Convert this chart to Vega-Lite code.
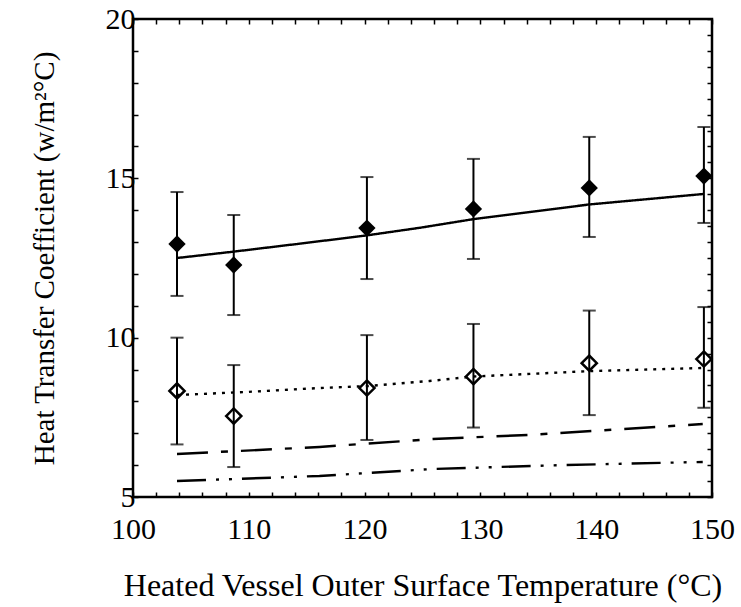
{
  "$schema": "https://vega.github.io/schema/vega-lite/v6.json",
  "width": 579,
  "height": 478,
  "autosize": {"type": "none"},
  "padding": {"left": 133, "top": 19, "right": 29, "bottom": 110},
  "background": "white",
  "config": {
    "view": {"stroke": "black", "strokeWidth": 2.5},
    "font": "Liberation Serif"
  },
  "datasets": {
    "points": [
      {"T": 103.8, "h": 12.94, "lo": 11.31, "hi": 14.57, "s": "filled"},
      {"T": 108.7, "h": 12.28, "lo": 10.71, "hi": 13.85, "s": "filled"},
      {"T": 120.2, "h": 13.44, "lo": 11.84, "hi": 15.04, "s": "filled"},
      {"T": 129.4, "h": 14.04, "lo": 12.47, "hi": 15.61, "s": "filled"},
      {"T": 139.4, "h": 14.70, "lo": 13.16, "hi": 16.30, "s": "filled"},
      {"T": 149.3, "h": 15.07, "lo": 13.60, "hi": 16.61, "s": "filled"},
      {"T": 103.8, "h": 8.33, "lo": 6.65, "hi": 10.0, "s": "open"},
      {"T": 108.7, "h": 7.54, "lo": 5.94, "hi": 9.14, "s": "open"},
      {"T": 120.2, "h": 8.42, "lo": 6.79, "hi": 10.08, "s": "open"},
      {"T": 129.4, "h": 8.78, "lo": 7.18, "hi": 10.43, "s": "open"},
      {"T": 139.4, "h": 9.2, "lo": 7.57, "hi": 10.85, "s": "open"},
      {"T": 149.3, "h": 9.33, "lo": 7.8, "hi": 10.96, "s": "open"}
    ],
    "curves": [
      {"T": 103.8, "h": 12.5, "c": "solid"},
      {"T": 108.7, "h": 12.7, "c": "solid"},
      {"T": 114.4, "h": 12.95, "c": "solid"},
      {"T": 120.0, "h": 13.2, "c": "solid"},
      {"T": 124.8, "h": 13.45, "c": "solid"},
      {"T": 129.4, "h": 13.72, "c": "solid"},
      {"T": 139.4, "h": 14.18, "c": "solid"},
      {"T": 149.3, "h": 14.51, "c": "solid"},
      {"T": 103.8, "h": 8.2, "c": "dotted"},
      {"T": 110.0, "h": 8.3, "c": "dotted"},
      {"T": 116.1, "h": 8.42, "c": "dotted"},
      {"T": 120.2, "h": 8.48, "c": "dotted"},
      {"T": 125.6, "h": 8.64, "c": "dotted"},
      {"T": 129.4, "h": 8.78, "c": "dotted"},
      {"T": 139.4, "h": 8.95, "c": "dotted"},
      {"T": 149.3, "h": 9.05, "c": "dotted"},
      {"T": 103.8, "h": 6.35, "c": "dashed"},
      {"T": 116.1, "h": 6.57, "c": "dashed"},
      {"T": 125.9, "h": 6.82, "c": "dashed"},
      {"T": 134.3, "h": 6.95, "c": "dashed"},
      {"T": 149.2, "h": 7.29, "c": "dashed"},
      {"T": 103.8, "h": 5.5, "c": "dashdot"},
      {"T": 116.1, "h": 5.66, "c": "dashdot"},
      {"T": 125.9, "h": 5.88, "c": "dashdot"},
      {"T": 137.0, "h": 6.0, "c": "dashdot"},
      {"T": 149.2, "h": 6.1, "c": "dashdot"}
    ]
  },
  "resolve": {"axis": {"x": "independent", "y": "independent"}},
  "layer": [
    {
      "data": {"name": "curves"},
      "mark": {"type": "line", "color": "black", "strokeWidth": 2.4, "strokeCap": "butt"},
      "encoding": {
        "x": {
          "field": "T", "type": "quantitative",
          "scale": {"domain": [100, 150], "nice": false, "zero": false},
          "axis": {
            "orient": "bottom",
            "values": [100,102,104,106,108,110,112,114,116,118,120,122,124,126,128,130,132,134,136,138,140,142,144,146,148,150],
            "format": "d",
            "labelExpr": "datum.value % 10 === 0 ? datum.label : ''",
            "title": "Heated Vessel Outer Surface Temperature (°C)",
            "titleFont": "Liberation Serif", "titleFontSize": 32, "titleFontWeight": "normal", "titleColor": "black", "titlePadding": 26,
            "labelFont": "Liberation Serif", "labelFontSize": 30, "labelColor": "black", "labelPadding": 22,
            "tickSize": -5, "tickWidth": 1.5, "tickColor": "black",
            "domain": false, "grid": false, "labelFlush": false, "labelOverlap": false
          }
        },
        "y": {
          "field": "h", "type": "quantitative",
          "scale": {"domain": [5, 20], "nice": false, "zero": false},
          "axis": {
            "orient": "left",
            "values": [5,5.5,6,6.5,7,7.5,8,8.5,9,9.5,10,10.5,11,11.5,12,12.5,13,13.5,14,14.5,15,15.5,16,16.5,17,17.5,18,18.5,19,19.5,20],
            "format": "d",
            "labelExpr": "datum.value % 5 === 0 ? datum.label : ''",
            "title": "Heat Transfer Coefficient (w/m²°C)",
            "titleFont": "Liberation Serif", "titleFontSize": 29, "titleFontWeight": "normal", "titleColor": "black", "titlePadding": 46,
            "labelFont": "Liberation Serif", "labelFontSize": 30, "labelColor": "black", "labelPadding": 3,
            "tickSize": -5, "tickWidth": 1.5, "tickColor": "black",
            "domain": false, "grid": false, "labelFlush": false, "labelOverlap": false
          }
        },
        "strokeDash": {
          "field": "c", "type": "nominal",
          "scale": {"domain": ["solid", "dotted", "dashed", "dashdot"], "range": [[1, 0], [3, 6], [31, 13, 7, 13], [29, 10, 3, 10, 3, 10]]},
          "legend": null
        }
      }
    },
    {
      "data": {"name": "points"},
      "mark": {"type": "errorbar", "ticks": {"size": 13}, "thickness": 2, "color": "black"},
      "encoding": {
        "x": {
          "field": "T", "type": "quantitative",
          "axis": {
            "orient": "top",
            "values": [100,102,104,106,108,110,112,114,116,118,120,122,124,126,128,130,132,134,136,138,140,142,144,146,148,150],
            "labels": false, "title": null,
            "tickSize": -5, "tickWidth": 1.5, "tickColor": "black",
            "domain": false, "grid": false
          }
        },
        "y": {
          "field": "lo", "type": "quantitative",
          "axis": {
            "orient": "right",
            "values": [5,5.5,6,6.5,7,7.5,8,8.5,9,9.5,10,10.5,11,11.5,12,12.5,13,13.5,14,14.5,15,15.5,16,16.5,17,17.5,18,18.5,19,19.5,20],
            "labels": false, "title": null,
            "tickSize": -5, "tickWidth": 1.5, "tickColor": "black",
            "domain": false, "grid": false
          }
        },
        "y2": {"field": "hi"}
      }
    },
    {
      "data": {"name": "points"},
      "transform": [{"filter": "datum.s === 'filled'"}],
      "mark": {"type": "point", "shape": "diamond", "filled": true, "color": "black", "size": 300, "opacity": 1},
      "encoding": {
        "x": {"field": "T", "type": "quantitative", "axis": null},
        "y": {"field": "h", "type": "quantitative", "axis": null}
      }
    },
    {
      "data": {"name": "points"},
      "transform": [{"filter": "datum.s === 'open'"}],
      "mark": {"type": "point", "shape": "diamond", "filled": false, "color": "black", "strokeWidth": 2.5, "size": 230, "opacity": 1},
      "encoding": {
        "x": {"field": "T", "type": "quantitative", "axis": null},
        "y": {"field": "h", "type": "quantitative", "axis": null}
      }
    }
  ]
}
